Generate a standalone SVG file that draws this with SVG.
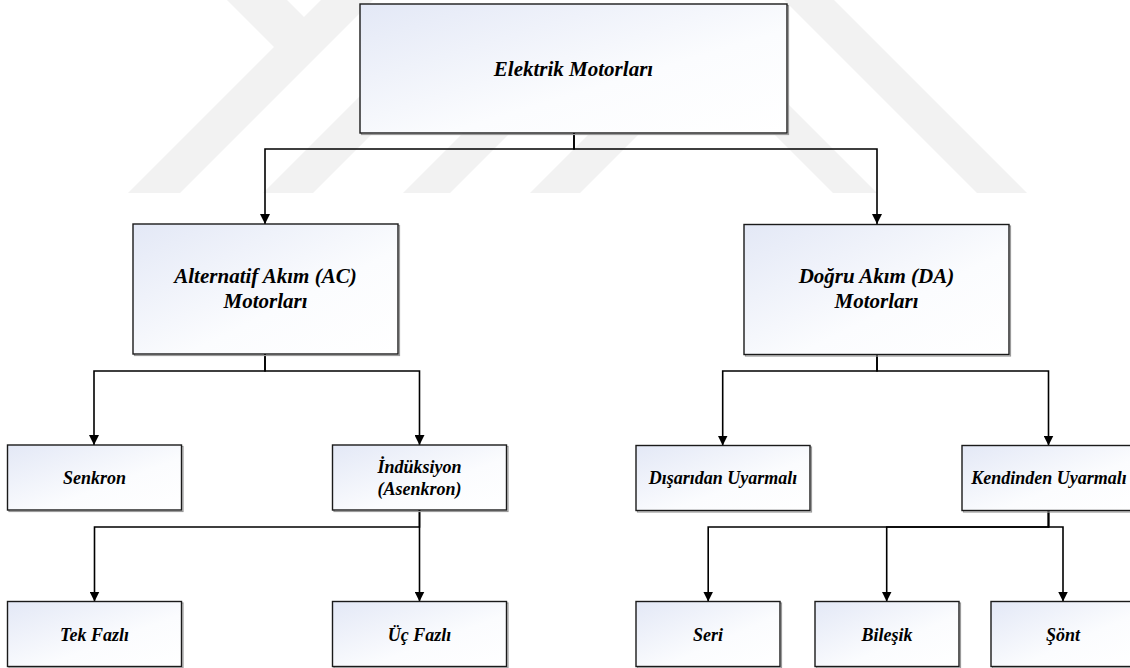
<svg xmlns="http://www.w3.org/2000/svg" width="1130" height="668" viewBox="0 0 1130 668">
  <defs>
    <linearGradient id="boxFill" x1="0" y1="0" x2="1" y2="1">
      <stop offset="0" stop-color="#e3e8f6"/>
      <stop offset="0.6" stop-color="#fbfcfe"/>
      <stop offset="1" stop-color="#ffffff"/>
    </linearGradient>
    <marker id="arrow" viewBox="0 0 10 10" refX="10" refY="5" markerWidth="10" markerHeight="10" markerUnits="userSpaceOnUse" orient="auto">
      <path d="M0,0 L10,5 L0,10 Z" fill="#000"/>
    </marker>
  </defs>
  <style>
    .bg { fill: #ffffff; }
    .mark { fill: #f2f2f2; }
    .shadow { fill: none; stroke: #9a9a9a; stroke-width: 1.2; }
    .box { fill: url(#boxFill); stroke: #1a1a1a; stroke-width: 1.4; }
    .label { font-family: 'Liberation Serif', 'DejaVu Serif', serif; font-weight: 700; font-style: italic; fill: #000; text-anchor: middle; }
    .big { font-size: 21px; }
    .small { font-size: 18px; }
    .wire { fill: none; stroke: #000; stroke-width: 1.6; }
  </style>

  <rect class="bg" x="0" y="0" width="1130" height="668"/>

  <!-- faint background emblem -->
  <g id="emblem">
    <polygon class="mark" points="128,193 274,47 227,0 287,0 304,17 321,0 373,0 180,193"/>
    <polygon class="mark" points="263,193 313,193 466,40 416,40"/>
    <polygon class="mark" points="403,193 450,193 543,100 496,100"/>
    <polygon class="mark" points="530,193 580,193 673,100 623,100"/>
    <polygon class="mark" points="833,193 877,193 777,93 733,93"/>
    <polygon class="mark" points="977,193 1027,193 834,0 784,0"/>
  </g>

  <!-- connectors -->
  <g id="connectors">
    <path class="wire" d="M574,133 V149 H265 V224" marker-end="url(#arrow)"/>
    <path class="wire" d="M574,133 V149 H877 V224" marker-end="url(#arrow)"/>
    <path class="wire" d="M265,354 V371 H94 V445" marker-end="url(#arrow)"/>
    <path class="wire" d="M265,354 V371 H419.5 V445" marker-end="url(#arrow)"/>
    <path class="wire" d="M877,354.5 V371 H722.7 V445.5" marker-end="url(#arrow)"/>
    <path class="wire" d="M877,354.5 V371 H1048.5 V445.5" marker-end="url(#arrow)"/>
    <path class="wire" d="M419.5,510 V527 H94.5 V601.5" marker-end="url(#arrow)"/>
    <path class="wire" d="M419.5,510 V527 H419.5 V601.5" marker-end="url(#arrow)"/>
    <path class="wire" d="M1048.5,510.5 V527 H708.2 V601.5" marker-end="url(#arrow)"/>
    <path class="wire" d="M1048.5,510.5 V527 H886.7 V601.5" marker-end="url(#arrow)"/>
    <path class="wire" d="M1048.5,510.5 V527 H1063 V601.5" marker-end="url(#arrow)"/>
  </g>

  <g id="elektrik-motorlari">
    <rect class="shadow" x="361.5" y="5.5" width="427" height="129"/>
    <rect class="box" x="360" y="4" width="427" height="129"/>
    <text class="label big" x="573.5" y="76">Elektrik Motorları</text>
  </g>

  <g id="ac-motorlari">
    <rect class="shadow" x="134.5" y="225.5" width="265" height="130"/>
    <rect class="box" x="133" y="224" width="265" height="130"/>
    <text class="label big" x="265.5" y="283">Alternatif Akım (AC)</text>
    <text class="label big" x="265.5" y="308">Motorları</text>
  </g>

  <g id="da-motorlari">
    <rect class="shadow" x="745.5" y="226" width="265" height="130"/>
    <rect class="box" x="744" y="224.5" width="265" height="130"/>
    <text class="label big" x="876.5" y="283">Doğru Akım (DA)</text>
    <text class="label big" x="876.5" y="308">Motorları</text>
  </g>

  <g id="senkron">
    <rect class="shadow" x="9" y="446.5" width="174" height="65"/>
    <rect class="box" x="7.5" y="445" width="174" height="65"/>
    <text class="label small" x="94.5" y="484">Senkron</text>
  </g>

  <g id="induksiyon">
    <rect class="shadow" x="334" y="446.5" width="174" height="65"/>
    <rect class="box" x="332.5" y="445" width="174" height="65"/>
    <text class="label small" x="419.5" y="473">İndüksiyon</text>
    <text class="label small" x="419.5" y="495">(Asenkron)</text>
  </g>

  <g id="disaridan-uyarmali">
    <rect class="shadow" x="637.5" y="447" width="174" height="65"/>
    <rect class="box" x="636" y="445.5" width="174" height="65"/>
    <text class="label small" x="723" y="484">Dışarıdan Uyarmalı</text>
  </g>

  <g id="kendinden-uyarmali">
    <rect class="shadow" x="963.5" y="447" width="174" height="65"/>
    <rect class="box" x="962" y="445.5" width="174" height="65"/>
    <text class="label small" x="1049" y="484">Kendinden Uyarmalı</text>
  </g>

  <g id="tek-fazli">
    <rect class="shadow" x="9" y="603" width="174" height="65"/>
    <rect class="box" x="7.5" y="601.5" width="174" height="65"/>
    <text class="label small" x="94.5" y="641">Tek Fazlı</text>
  </g>

  <g id="uc-fazli">
    <rect class="shadow" x="334" y="603" width="174" height="65"/>
    <rect class="box" x="332.5" y="601.5" width="174" height="65"/>
    <text class="label small" x="419.5" y="641">Üç Fazlı</text>
  </g>

  <g id="seri">
    <rect class="shadow" x="637.5" y="603" width="144" height="65"/>
    <rect class="box" x="636" y="601.5" width="144" height="65"/>
    <text class="label small" x="708" y="641">Seri</text>
  </g>

  <g id="bilesik">
    <rect class="shadow" x="816.5" y="603" width="144" height="65"/>
    <rect class="box" x="815" y="601.5" width="144" height="65"/>
    <text class="label small" x="887" y="641">Bileşik</text>
  </g>

  <g id="sont">
    <rect class="shadow" x="992.5" y="603" width="144" height="65"/>
    <rect class="box" x="991" y="601.5" width="144" height="65"/>
    <text class="label small" x="1063" y="641">Şönt</text>
  </g>
</svg>
